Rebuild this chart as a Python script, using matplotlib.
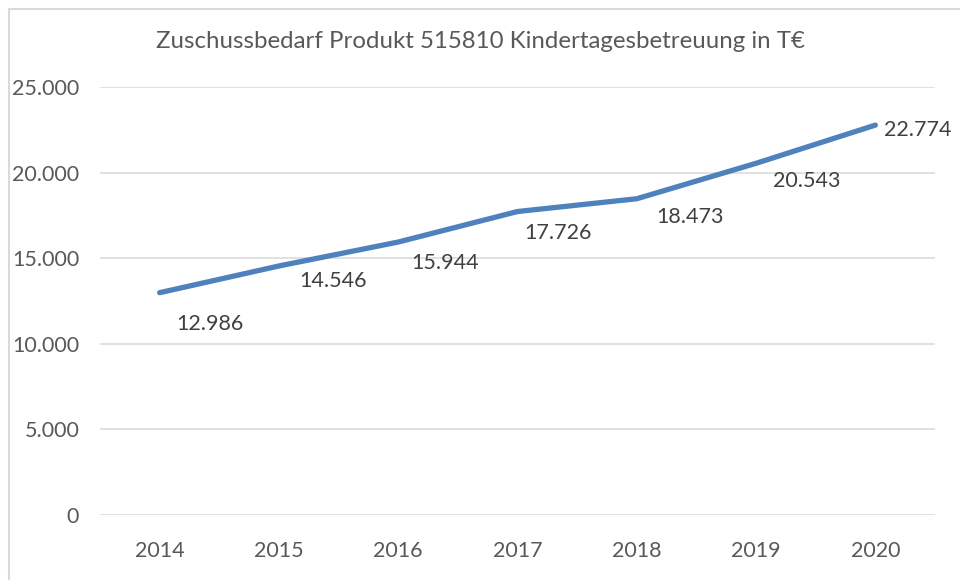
import matplotlib.pyplot as plt
from matplotlib.ticker import FuncFormatter
from matplotlib.patches import Rectangle

plt.rcParams['font.family'] = ['Lato', 'DejaVu Sans']

jahre = ['2014', '2015', '2016', '2017', '2018', '2019', '2020']
zuschuss = [12986, 14546, 15944, 17726, 18473, 20543, 22774]

def tausend(v, pos=None):
    return f"{int(round(v)):,}".replace(',', '.')

fig = plt.figure(figsize=(9.6, 5.8), dpi=100)
ax = fig.add_axes([100/960, 65/580, 835/960, 428/580])

x = range(len(jahre))
ax.plot(x, zuschuss, color='#4F81BD', lw=3.8, solid_capstyle='round', zorder=3)

# label offsets in pixels (right / down of the point)
offs = [(50, -31), (54, -15), (47, -21), (40, -21), (53, -18), (51, -18), (42, -5)]
for i, v in enumerate(zuschuss):
    dx, dy = offs[i]
    ax.annotate(tausend(v), (i, v), xytext=(dx * 0.72, dy * 0.72), textcoords='offset points',
                ha='center', va='center', fontsize=15.5, color='#404040', zorder=4)

ax.set_xlim(-0.5, len(jahre) - 0.5)
ax.set_ylim(0, 25000)
ax.set_yticks(range(0, 25001, 5000))
ax.yaxis.set_major_formatter(FuncFormatter(tausend))
ax.set_xticks(list(x))
ax.set_xticklabels(jahre)
ax.grid(axis='y', color='#D9D9D9', lw=1.1)
ax.set_axisbelow(True)
for s in ax.spines.values():
    s.set_visible(False)
ax.tick_params(length=0, labelsize=15.5, colors='#595959')
ax.tick_params(axis='y', pad=15)
ax.tick_params(axis='x', pad=19)

fig.text(0.5, 1 - 42/580, 'Zuschussbedarf Produkt 515810 Kindertagesbetreuung in T€',
         ha='center', va='center', fontsize=17.3, color='#595959')

fig.patches.append(Rectangle((9/960, -0.1), 1.2, 1 - 9/580 + 0.1, transform=fig.transFigure,
                             fill=False, edgecolor='#D9D9D9', lw=1.5))

fig.savefig('out.png', dpi=100)
